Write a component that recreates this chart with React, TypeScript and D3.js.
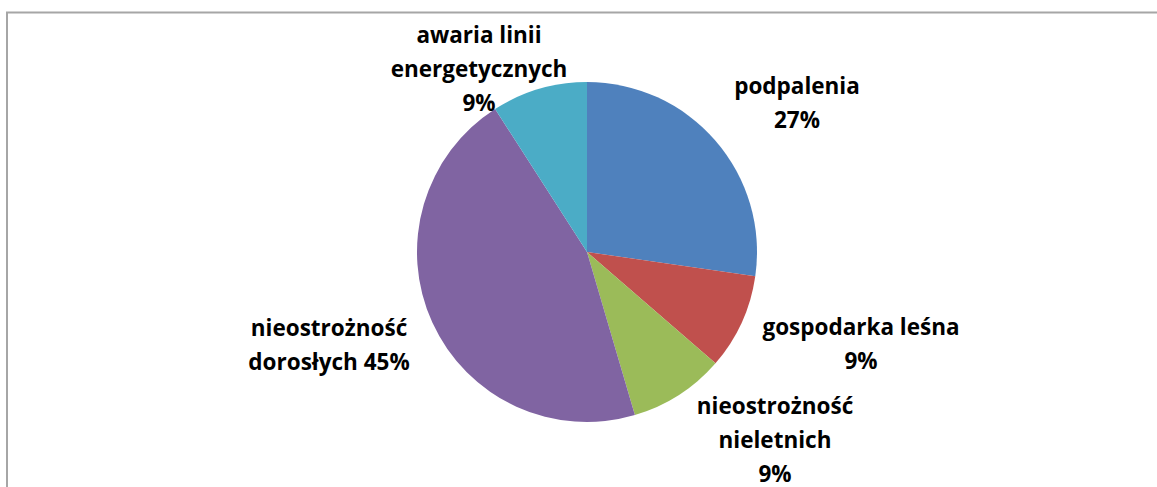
import React from "react";
import * as d3 from "d3";

const categories = [
  "podpalenia",
  "gospodarka leśna",
  "nieostrożność nieletnich",
  "nieostrożność dorosłych",
  "awaria linii energetycznych",
];
const values = [3, 1, 1, 5, 1];
const colors = ["#4F81BD", "#C0504D", "#9BBB59", "#8064A2", "#4BACC6"];
const labelLines = [
  ["podpalenia", "27%"],
  ["gospodarka leśna", "9%"],
  ["nieostrożność", "nieletnich", "9%"],
  ["nieostrożność", "dorosłych 45%"],
  ["awaria linii", "energetycznych", "9%"],
];
const labelPos = [
  [797, 94],
  [861, 335],
  [775, 414],
  [329, 336],
  [479, 43],
];

export default function App() {
  const W = 1157, H = 487;
  const cx = 587, cy = 252, r = 170;
  const pie = d3.pie<number>().sort(null).value((d) => d)(values);
  const arc = d3.arc<d3.PieArcDatum<number>>().innerRadius(0).outerRadius(r);
  return (
    <svg width={W} height={H} style={{ position: "absolute", left: 0, top: 0, background: "#fff" }}>
      <rect x={7} y={12.5} width={W} height={H} fill="#fff" stroke="#a6a6a6" strokeWidth={2} />
      <g transform={`translate(${cx},${cy})`}>
        {pie.map((p, i) => (
          <path key={categories[i]} d={arc(p) || ""} fill={colors[i]} />
        ))}
      </g>
      {labelLines.map((lines, i) => (
        <text
          key={i}
          x={labelPos[i][0]}
          y={labelPos[i][1]}
          textAnchor="middle"
          fontFamily="'Open Sans', Lato, sans-serif"
          fontWeight="bold"
          fontSize={22.5}
          fill="#000"
        >
          {lines.map((l, j) => (
            <tspan key={j} x={labelPos[i][0]} dy={j === 0 ? 0 : 34}>
              {l}
            </tspan>
          ))}
        </text>
      ))}
    </svg>
  );
}
